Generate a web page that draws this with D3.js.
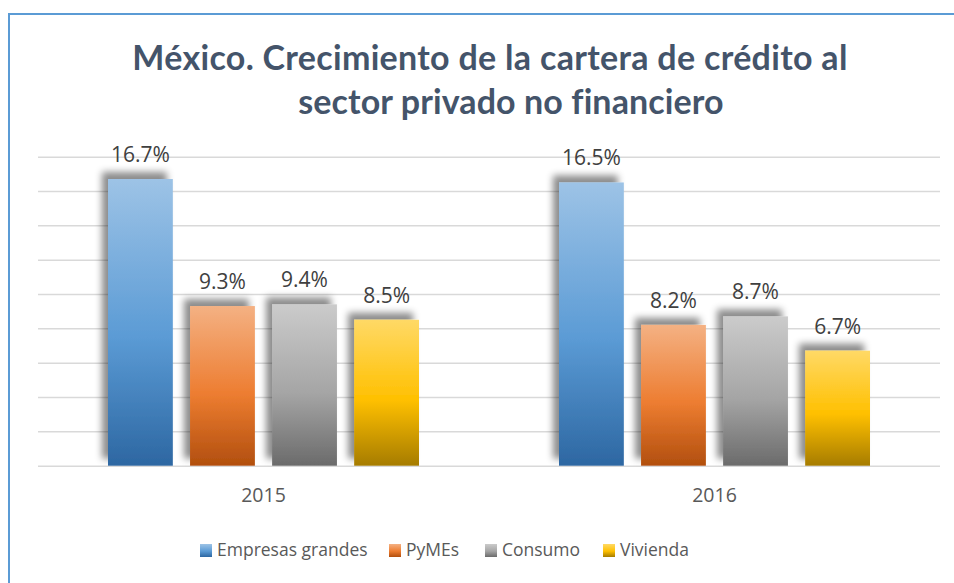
<!DOCTYPE html>
<html>
<head>
<meta charset="utf-8">
<script src="https://cdn.jsdelivr.net/npm/d3@7"></script>
<style>
  body { margin: 0; background: #fff; }
  text { font-family: "Open Sans", sans-serif; }
</style>
</head>
<body>
<div id="chart"></div>
<script>
//Datos del gráfico
const years = ['2015', '2016'];
const series = ['Empresas grandes', 'PyMEs', 'Consumo', 'Vivienda'];
const empresasGrandes = [16.7, 16.5];
const pymes = [9.3, 8.2];
const consumo = [9.4, 8.7];
const vivienda = [8.5, 6.7];
const yTicks = [0, 2, 4, 6, 8, 10, 12, 14, 16, 18];
const titleLines = ['México. Crecimiento de la cartera de crédito al', 'sector privado no financiero'];

//Colores (arriba, medio, abajo)
const gradientes = [
    ['#9DC3E6', '#5B9BD5', '#2D67A2'],
    ['#F4B183', '#ED7D31', '#B24F0E'],
    ['#CBCBCB', '#A5A5A5', '#6B6B6B'],
    ['#FFD966', '#FFC000', '#A67C00']
];

const values = [empresasGrandes, pymes, consumo, vivienda];
const data = years.map(function(y, i) {
    return { year: y, values: series.map(function(s, j) { return { key: s, idx: j, value: values[j][i] }; }) };
});

let W = 954, H = 583;
let margin = {top: 157, right: 14, bottom: 117, left: 38},
    width = W - margin.left - margin.right,
    height = H - margin.top - margin.bottom;

let svg = d3.select('#chart').append('svg')
    .attr('width', W)
    .attr('height', H);

let defs = svg.append('defs');

gradientes.forEach(function(g, i) {
    let lg = defs.append('linearGradient')
        .attr('id', 'grad' + i)
        .attr('x1', 0).attr('y1', 0).attr('x2', 0).attr('y2', 1);
    lg.append('stop').attr('offset', '0%').attr('stop-color', g[0]);
    lg.append('stop').attr('offset', '55%').attr('stop-color', g[1]);
    lg.append('stop').attr('offset', '100%').attr('stop-color', g[2]);
});

let shadow = defs.append('filter')
    .attr('id', 'shadow')
    .attr('x', '-30%').attr('y', '-30%').attr('width', '160%').attr('height', '160%');
shadow.append('feDropShadow')
    .attr('dx', -6).attr('dy', -7)
    .attr('stdDeviation', 3.5)
    .attr('flood-color', '#000')
    .attr('flood-opacity', 0.45);

//Marco
svg.append('path')
    .attr('d', 'M9,' + H + ' V14 H' + W)
    .attr('fill', 'none')
    .attr('stroke', '#5B9BD5')
    .attr('stroke-width', 2);

//Título
svg.append('text')
    .attr('x', 490).attr('y', 70)
    .attr('text-anchor', 'middle')
    .attr('font-size', 34)
    .attr('font-weight', 'bold')
    .attr('letter-spacing', 0.3)
    .attr('fill', '#44546A')
    .style('font-family', 'Lato, sans-serif')
    .text(titleLines[0]);
svg.append('text')
    .attr('x', 511).attr('y', 114)
    .attr('text-anchor', 'middle')
    .attr('font-size', 34)
    .attr('font-weight', 'bold')
    .attr('letter-spacing', 0.1)
    .attr('fill', '#44546A')
    .style('font-family', 'Lato, sans-serif')
    .text(titleLines[1]);

let chart = svg.append('g')
    .attr('transform', 'translate(' + margin.left + ',' + (margin.top - 0.3) + ')');

//Eje X
let x0 = d3.scaleBand()
    .domain(years)
    .range([0, width])
    .paddingInner(0)
    .paddingOuter(0);

let x1 = d3.scaleBand()
    .domain(series)
    .range([70, x0.bandwidth() - 70])
    .paddingInner(0.21);

//Eje Y
let y = d3.scaleLinear()
    .domain([0, 18])
    .range([height, 0]);

chart.append('g')
    .attr('class', 'grid')
    .call(d3.axisLeft(y).tickValues(yTicks).tickSize(-width).tickFormat(''))
    .call(function(g) {
        g.select('.domain').remove();
        g.selectAll('.tick line').attr('stroke', '#D9D9D9').attr('stroke-width', 1.5);
    });

chart.append('g')
    .attr('transform', 'translate(0,' + height + ')')
    .call(d3.axisBottom(x0).tickSize(0).tickPadding(22))
    .call(function(g) {
        g.select('.domain').remove();
        g.selectAll('text').attr('font-size', 19.5).attr('fill', '#595959')
            .style('font-family', '"Open Sans", sans-serif');
    });

//Barras
let groups = chart.selectAll('.group')
    .data(data)
    .enter().append('g')
    .attr('class', 'group')
    .attr('transform', function(d) { return 'translate(' + x0(d.year) + ',0)'; });

groups.selectAll('rect')
    .data(function(d) { return d.values; })
    .enter().append('rect')
    .attr('x', function(d) { return x1(d.key); })
    .attr('y', function(d) { return y(d.value); })
    .attr('width', x1.bandwidth())
    .attr('height', function(d) { return height - y(d.value); })
    .attr('fill', function(d) { return 'url(#grad' + d.idx + ')'; })
    .attr('filter', 'url(#shadow)');

groups.selectAll('.label')
    .data(function(d) { return d.values; })
    .enter().append('text')
    .attr('class', 'label')
    .attr('x', function(d) { return x1(d.key) + x1.bandwidth() / 2; })
    .attr('y', function(d) { return y(d.value) - 17; })
    .attr('text-anchor', 'middle')
    .attr('font-size', 21)
    .attr('fill', '#404040')
    .text(function(d) { return d.value.toFixed(1) + '%'; });

//Leyenda
let legendX = [200, 389, 485, 603];
let legend = svg.append('g')
    .attr('transform', 'translate(0,550)');

let items = legend.selectAll('.item')
    .data(series)
    .enter().append('g')
    .attr('class', 'item')
    .attr('transform', function(d, i) { return 'translate(' + legendX[i] + ',0)'; });

items.append('rect')
    .attr('x', 0).attr('y', -6)
    .attr('width', 12).attr('height', 13)
    .attr('fill', function(d, i) { return 'url(#grad' + i + ')'; });

items.append('text')
    .attr('x', 17).attr('y', 0)
    .attr('dy', '0.35em')
    .attr('font-size', 17.5)
    .attr('fill', '#595959')
    .text(function(d) { return d; });
</script>
</body>
</html>
